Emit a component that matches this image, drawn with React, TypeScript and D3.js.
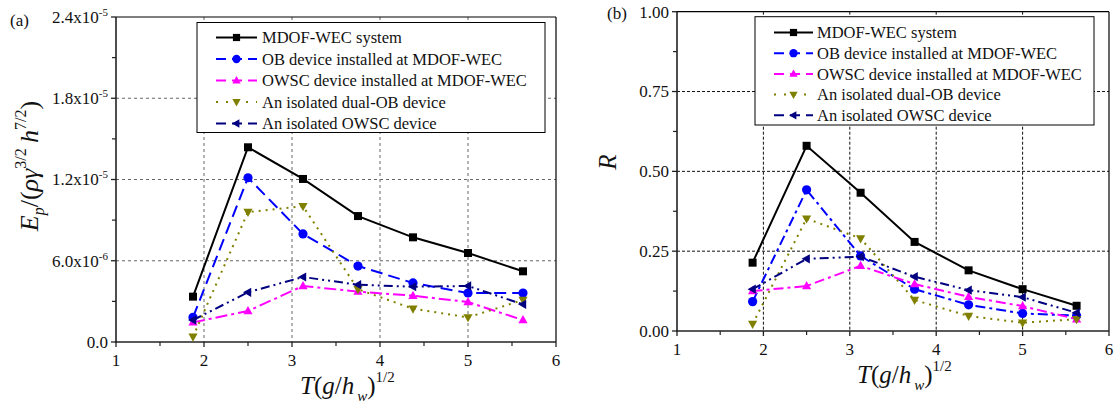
import React from "react";
import * as d3 from "d3";

// Dimensionless wave period T(g/h_w)^{1/2}
const tValues = [1.875, 2.5, 3.125, 3.75, 4.375, 5.0, 5.625];

// (a) Dimensionless captured power E_p / (ρ γ^{3/2} h^{7/2})
const mdofEp = [3.35e-6, 14.38e-6, 12.04e-6, 9.3e-6, 7.73e-6, 6.57e-6, 5.22e-6];
const obEp = [1.82e-6, 12.13e-6, 7.98e-6, 5.61e-6, 4.36e-6, 3.62e-6, 3.62e-6];
const owscEp = [1.45e-6, 2.29e-6, 4.14e-6, 3.72e-6, 3.42e-6, 2.95e-6, 1.62e-6];
const dualObEp = [0.39e-6, 9.6e-6, 10.02e-6, 3.89e-6, 2.46e-6, 1.82e-6, 3.1e-6];
const isoOwscEp = [1.62e-6, 3.67e-6, 4.8e-6, 4.23e-6, 4.08e-6, 4.14e-6, 2.78e-6];

// (b) Reflection coefficient R
const mdofR = [0.214, 0.58, 0.433, 0.279, 0.19, 0.131, 0.079];
const obR = [0.092, 0.442, 0.235, 0.131, 0.082, 0.055, 0.048];
const owscR = [0.125, 0.141, 0.204, 0.147, 0.107, 0.078, 0.037];
const dualObR = [0.022, 0.352, 0.29, 0.097, 0.047, 0.026, 0.037];
const isoOwscR = [0.131, 0.226, 0.233, 0.17, 0.128, 0.106, 0.057];

const seriesNames = [
  "MDOF-WEC system",
  "OB device installed at MDOF-WEC",
  "OWSC device installed at MDOF-WEC",
  "An isolated dual-OB device",
  "An isolated OWSC device",
];

const xTicks = [1, 2, 3, 4, 5, 6];
const xMinorTicks = [1.5, 2.5, 3.5, 4.5, 5.5];

const epTicks = [0, 6e-6, 1.2e-5, 1.8e-5, 2.4e-5];
const epTickMantissa = ["0.0", "6.0x10", "1.2x10", "1.8x10", "2.4x10"];
const epTickExponent = ["", "-6", "-5", "-5", "-5"];
const epMinorTicks = [3e-6, 9e-6, 1.5e-5, 2.1e-5];

const rTicks = [0, 0.25, 0.5, 0.75, 1.0];
const rTickLabels = ["0.00", "0.25", "0.50", "0.75", "1.00"];
const rMinorTicks = [0.125, 0.375, 0.625, 0.875];

const FONT = '"Liberation Serif", "Times New Roman", "DejaVu Serif", serif';

type Marker = "square" | "circle" | "up" | "down" | "left";

interface SeriesStyle {
  color: string;
  marker: Marker;
  dash: string;
}

const markerPath = (m: Marker, s: number): string => {
  switch (m) {
    case "square":
      return `M${-s},${-s}H${s}V${s}H${-s}Z`;
    case "up":
      return `M0,${-s * 1.25}L${s * 1.15},${s * 0.8}L${-s * 1.15},${s * 0.8}Z`;
    case "down":
      return `M0,${s * 1.25}L${s * 1.15},${-s * 0.8}L${-s * 1.15},${-s * 0.8}Z`;
    case "left":
      return `M${-s * 1.25},0L${s * 0.8},${-s * 1.15}L${s * 0.8},${s * 1.15}Z`;
    default:
      return "";
  }
};

const MarkerShape: React.FC<{ m: Marker; x: number; y: number; s: number; color: string }> = ({
  m,
  x,
  y,
  s,
  color,
}) =>
  m === "circle" ? (
    <circle cx={x} cy={y} r={s * 1.15} fill={color} />
  ) : (
    <path d={markerPath(m, s)} transform={`translate(${x},${y})`} fill={color} />
  );

interface PanelProps {
  left: number;
  right: number;
  top: number;
  bottom: number;
  yMax: number;
  yTicks: number[];
  yMinor: number[];
  yLabel: (i: number) => React.ReactNode;
  series: number[][];
  styles: SeriesStyle[];
  gridColor: string;
  gridDash: string;
  legend: { x0: number; x1: number; y0: number; y1: number; lineX0: number; lineX1: number; textX: number; rowY: number; rowStep: number };
  tag: string;
  tagX: number;
  tagY: number;
  yTitle: React.ReactNode;
}

const Panel: React.FC<PanelProps> = (p) => {
  const x = d3.scaleLinear().domain([1, 6]).range([p.left, p.right]);
  const y = d3.scaleLinear().domain([0, p.yMax]).range([p.bottom, p.top]);
  const line = d3
    .line<[number, number]>()
    .x((d) => x(d[0]))
    .y((d) => y(d[1]));
  const cx = (p.left + p.right) / 2;
  const tick = 5;

  return (
    <g style={{ fontFamily: FONT }}>
      {/* grid */}
      {xTicks.slice(1, -1).map((t) => (
        <line
          key={"gx" + t}
          x1={x(t)}
          x2={x(t)}
          y1={p.top}
          y2={p.bottom}
          stroke={p.gridColor}
          strokeWidth={1}
          strokeDasharray={p.gridDash}
        />
      ))}
      {p.yTicks.slice(1, -1).map((t) => (
        <line
          key={"gy" + t}
          x1={p.left}
          x2={p.right}
          y1={y(t)}
          y2={y(t)}
          stroke={p.gridColor}
          strokeWidth={1}
          strokeDasharray={p.gridDash}
        />
      ))}

      {/* frame */}
      <line x1={p.left} x2={p.right} y1={p.top} y2={p.top} stroke="#000" strokeWidth={1.2} />
      <line x1={p.right} x2={p.right} y1={p.top} y2={p.bottom} stroke="#000" strokeWidth={1.2} />
      <line x1={p.left} x2={p.left} y1={p.top} y2={p.bottom + 0.75} stroke="#222" strokeWidth={1.6} />
      <line x1={p.left - 0.75} x2={p.right} y1={p.bottom} y2={p.bottom} stroke="#222" strokeWidth={1.6} />

      {/* x ticks */}
      {xTicks.map((t) => (
        <g key={"xt" + t}>
          <line x1={x(t)} x2={x(t)} y1={p.bottom} y2={p.bottom + tick} stroke="#222" strokeWidth={1.3} />
          <text x={x(t)} y={p.bottom + 24} textAnchor="middle" fontSize={17} fill="#111">
            {t}
          </text>
        </g>
      ))}
      {xMinorTicks.map((t) => (
        <line key={"xm" + t} x1={x(t)} x2={x(t)} y1={p.bottom} y2={p.bottom + 4} stroke="#222" strokeWidth={1.2} />
      ))}

      {/* y ticks */}
      {p.yTicks.map((t, i) => (
        <g key={"yt" + t}>
          <line x1={p.left - tick} x2={p.left} y1={y(t)} y2={y(t)} stroke="#222" strokeWidth={1.3} />
          <text x={p.left - 8} y={y(t)} dy="0.35em" textAnchor="end" fontSize={17} fill="#111">
            {p.yLabel(i)}
          </text>
        </g>
      ))}
      {p.yMinor.map((t) => (
        <line key={"ym" + t} x1={p.left - 4} x2={p.left} y1={y(t)} y2={y(t)} stroke="#222" strokeWidth={1.2} />
      ))}

      {/* series */}
      {p.series.map((vals, si) => {
        const st = p.styles[si];
        const pts = tValues.map((t, i) => [t, vals[i]] as [number, number]);
        return (
          <g key={"s" + si}>
            <path
              d={line(pts) || ""}
              fill="none"
              stroke={st.color}
              strokeWidth={2}
              strokeDasharray={st.dash}
            />
            {pts.map((d, i) => (
              <MarkerShape key={i} m={st.marker} x={x(d[0])} y={y(d[1])} s={4} color={st.color} />
            ))}
          </g>
        );
      })}

      {/* legend */}
      <rect
        x={p.legend.x0}
        y={p.legend.y0}
        width={p.legend.x1 - p.legend.x0}
        height={p.legend.y1 - p.legend.y0}
        fill="#fff"
        stroke="#000"
        strokeWidth={1}
      />
      {seriesNames.map((name, i) => {
        const st = p.styles[i];
        const ly = p.legend.rowY + i * p.legend.rowStep;
        const mx = (p.legend.lineX0 + p.legend.lineX1) / 2;
        return (
          <g key={"lg" + i}>
            <line
              x1={p.legend.lineX0}
              x2={p.legend.lineX1}
              y1={ly}
              y2={ly}
              stroke={st.color}
              strokeWidth={2}
              strokeDasharray={i === 0 ? "" : i === 3 ? "2 8" : "10 6"}
            />
            <MarkerShape m={st.marker} x={mx} y={ly} s={3.6} color={st.color} />
            <text x={p.legend.textX} y={ly} dy="0.35em" fontSize={16.5} fill="#111">
              {name}
            </text>
          </g>
        );
      })}

      {/* panel tag */}
      <text x={p.tagX} y={p.tagY} fontSize={17} fill="#111">
        {p.tag}
      </text>

      {p.yTitle}

      {/* x title */}
      <text x={cx - 36} y={p.bottom + 52} fontSize={25} fill="#111">
        <tspan fontStyle="italic">T</tspan>
        <tspan>(</tspan>
        <tspan fontStyle="italic">g</tspan>
        <tspan>/</tspan>
        <tspan fontStyle="italic">h</tspan>
        <tspan fontStyle="italic" fontSize={15} dy={7}>
          {"\u2009w"}
        </tspan>
        <tspan dy={-7}>)</tspan>
        <tspan fontSize={15} dy={-12}>
          1/2
        </tspan>
      </text>
    </g>
  );
};

const stylesA: SeriesStyle[] = [
  { color: "#000000", marker: "square", dash: "" },
  { color: "#0000ff", marker: "circle", dash: "12 6" },
  { color: "#ff00ff", marker: "up", dash: "12 4 3 4" },
  { color: "#808000", marker: "down", dash: "2 5" },
  { color: "#000080", marker: "left", dash: "9 4 2 4 2 4" },
];

const stylesB: SeriesStyle[] = [
  { color: "#000000", marker: "square", dash: "" },
  { color: "#0000ff", marker: "circle", dash: "10 4 3 4" },
  { color: "#ff00ff", marker: "up", dash: "10 4 3 4" },
  { color: "#808000", marker: "down", dash: "2 5" },
  { color: "#000080", marker: "left", dash: "9 4 2 4 2 4" },
];

export default function App() {
  return (
    <svg
      width={1117}
      height={410}
      viewBox="0 0 1117 410"
      style={{ position: "absolute", left: 0, top: 0, background: "#fff", fontFamily: FONT }}
    >
      <rect width={1117} height={410} fill="#fff" />
      <Panel
        left={116}
        right={556}
        top={17}
        bottom={342}
        yMax={2.4e-5}
        yTicks={epTicks}
        yMinor={epMinorTicks}
        yLabel={(i) => (
          <>
            <tspan>{epTickMantissa[i]}</tspan>
            {epTickExponent[i] && (
              <tspan fontSize={11} dy={-7}>
                {epTickExponent[i]}
              </tspan>
            )}
          </>
        )}
        series={[mdofEp, obEp, owscEp, dualObEp, isoOwscEp]}
        styles={stylesA}
        gridColor="#666"
        gridDash="3 3"
        legend={{ x0: 197, x1: 545, y0: 22.5, y1: 132.5, lineX0: 216, lineX1: 257, textX: 262, rowY: 37.5, rowStep: 21.5 }}
        tag="(a)"
        tagX={10}
        tagY={26}
        yTitle={
          <text transform="translate(38,166) rotate(-90)" textAnchor="middle" fontSize={26} fill="#111">
            <tspan fontStyle="italic">E</tspan>
            <tspan fontStyle="italic" fontSize={16} dy={6}>
              p
            </tspan>
            <tspan dy={-6}>/(</tspan>
            <tspan fontStyle="italic">ργ</tspan>
            <tspan fontSize={16} dy={-12}>
              3/2
            </tspan>
            <tspan fontStyle="italic" dy={12}>
              {"\u2009h"}
            </tspan>
            <tspan fontSize={16} dy={-12}>
              7/2
            </tspan>
            <tspan dy={12}>)</tspan>
          </text>
        }
      />
      <Panel
        left={677}
        right={1109}
        top={11.7}
        bottom={331}
        yMax={1.0}
        yTicks={rTicks}
        yMinor={rMinorTicks}
        yLabel={(i) => rTickLabels[i]}
        series={[mdofR, obR, owscR, dualObR, isoOwscR]}
        styles={stylesB}
        gridColor="#111"
        gridDash="3 2"
        legend={{ x0: 755, x1: 1094, y0: 16.7, y1: 125, lineX0: 774, lineX1: 813, textX: 817, rowY: 32.5, rowStep: 20.7 }}
        tag="(b)"
        tagX={607}
        tagY={19}
        yTitle={
          <text transform="translate(616,162) rotate(-90)" textAnchor="middle" fontSize={25} fontStyle="italic" fill="#111">
            R
          </text>
        }
      />
    </svg>
  );
}
